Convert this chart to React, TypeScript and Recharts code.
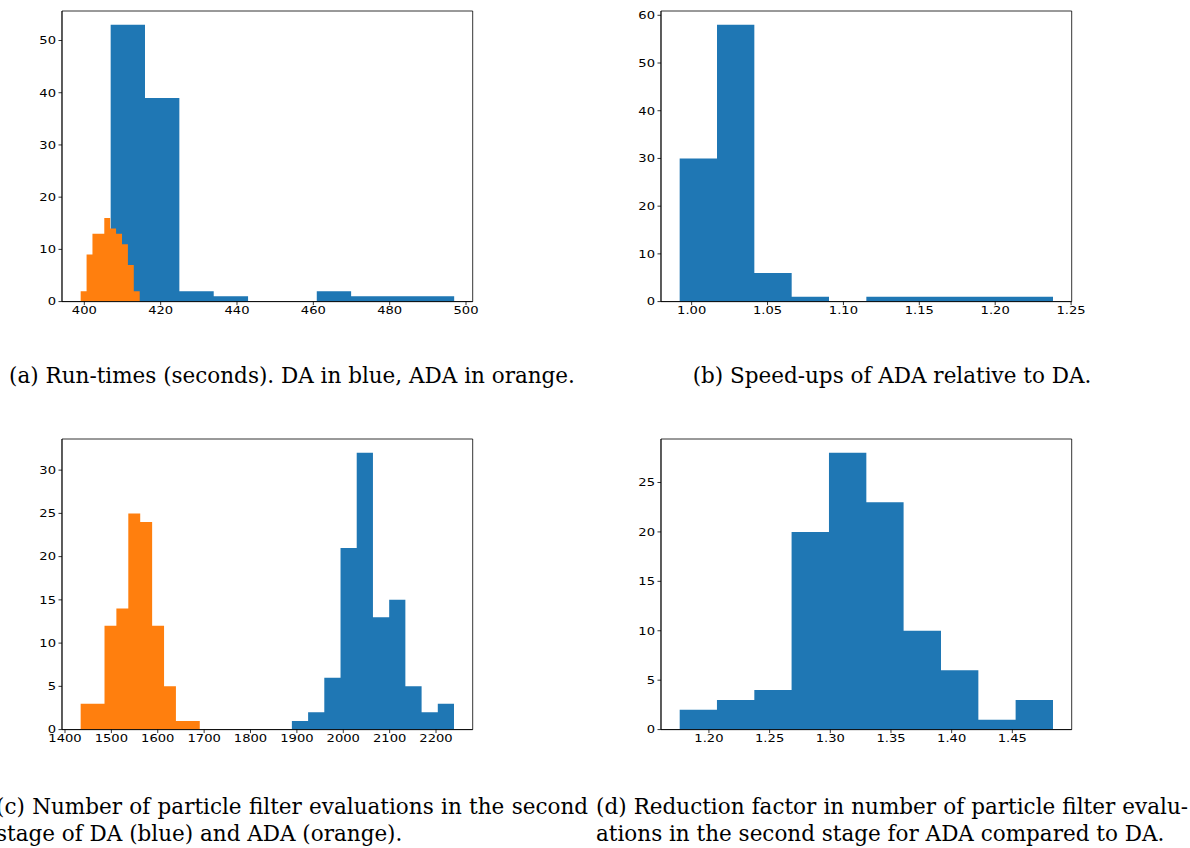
import React from "react";
import { ComposedChart, Area, XAxis, YAxis, CartesianGrid } from "recharts";

// (a) run-times, seconds
const runDaEdges = [406.9, 415.9, 424.9, 433.9, 442.9, 451.9, 460.9, 469.9, 478.9, 487.9, 496.9];
const runDaCounts = [53, 39, 2, 1, 0, 0, 2, 1, 1, 1];
const runAdaEdges = [399.04, 400.59, 402.13, 403.68, 405.23, 406.78, 408.32, 409.87, 411.42, 412.96, 414.51];
const runAdaCounts = [2, 9, 13, 13, 16, 14, 13, 11, 7, 2];
const runXTicks = [400, 420, 440, 460, 480, 500];
const runYTicks = [0, 10, 20, 30, 40, 50];

// (b) speed-ups
const speedEdges = [0.9921, 1.0167, 1.0413, 1.0659, 1.0905, 1.1151, 1.1397, 1.1643, 1.1889, 1.2135, 1.2381];
const speedCounts = [30, 58, 6, 1, 0, 1, 1, 1, 1, 1];
const speedXTicks = [1.0, 1.05, 1.1, 1.15, 1.2, 1.25];
const speedYTicks = [0, 10, 20, 30, 40, 50, 60];

// (c) particle filter evaluations
const evalDaEdges = [1889.2, 1924.2, 1959.1, 1994.1, 2029.0, 2064.0, 2099.0, 2133.9, 2168.9, 2203.8, 2238.8];
const evalDaCounts = [1, 2, 6, 21, 32, 13, 15, 5, 2, 3];
const evalAdaEdges = [1433.8, 1459.5, 1485.2, 1510.8, 1536.5, 1562.2, 1587.9, 1613.6, 1639.2, 1664.9, 1690.6];
const evalAdaCounts = [3, 3, 12, 14, 25, 24, 12, 5, 1, 1];
const evalXTicks = [1400, 1500, 1600, 1700, 1800, 1900, 2000, 2100, 2200];
const evalYTicks = [0, 5, 10, 15, 20, 25, 30];

// (d) reduction factor
const redEdges = [1.1759, 1.2066, 1.2374, 1.2681, 1.2989, 1.3297, 1.3604, 1.3912, 1.422, 1.4527, 1.4835];
const redCounts = [2, 3, 4, 20, 28, 23, 10, 6, 1, 3];
const redXTicks = [1.2, 1.25, 1.3, 1.35, 1.4, 1.45];
const redYTicks = [0, 5, 10, 15, 20, 25];

const BLUE = "#1f77b4";
const ORANGE = "#ff7f0e";

// step data: one point per bin edge, last count repeated at the right edge
const steps = (edges: number[], counts: number[]) =>
  edges.map((x, i) => ({ x, y: counts[Math.min(i, counts.length - 1)] }));

const PLOT_W = 410.7;
const PLOT_H = 290.6;
const Y_W = 50;
const X_H = 25;
const M_TOP = 2;
const M_RIGHT = 24;

type Series = { edges: number[]; counts: number[]; color: string };

interface HistProps {
  plotLeft: number;
  plotTop: number;
  xDomain: [number, number];
  yMax: number;
  xTicks: number[];
  yTicks: number[];
  series: Series[];
  fmt: (v: number) => string;
}

const tickFont = { fontFamily: "DejaVu Sans", fontSize: 10.5, fill: "#000" };

// frame lines at the plot-area edges (matplotlib spines)
const frameH = ({ offset }: any) => [offset.top, offset.top + offset.height];
const frameV = ({ offset }: any) => [offset.left, offset.left + offset.width];

const Hist: React.FC<HistProps> = ({ plotLeft, plotTop, xDomain, yMax, xTicks, yTicks, series, fmt }) => {
  const XTick = (p: any) => (
    <g transform={`translate(${p.x},${p.y})`}>
      <text transform="scale(1.25,1)" textAnchor="middle" y={8.6} {...tickFont}>
        {fmt(p.payload.value)}
      </text>
    </g>
  );
  const YTick = (p: any) => (
    <g transform={`translate(${p.x},${p.y})`}>
      <text transform="scale(1.25,1)" textAnchor="end" x={-2} y={3.8} {...tickFont}>
        {p.payload.value}
      </text>
    </g>
  );
  return (
    <div style={{ position: "absolute", left: plotLeft - Y_W, top: plotTop - M_TOP }}>
      <ComposedChart
        width={Y_W + PLOT_W + M_RIGHT}
        height={M_TOP + PLOT_H + X_H}
        margin={{ top: M_TOP, right: M_RIGHT, left: 0, bottom: 0 }}
      >
        <CartesianGrid
          stroke="#000"
          strokeWidth={0.8}
          horizontalCoordinatesGenerator={frameH}
          verticalCoordinatesGenerator={frameV}
        />
        <XAxis
          dataKey="x"
          type="number"
          domain={xDomain}
          ticks={xTicks}
          interval={0}
          allowDataOverflow
          height={X_H}
          tickSize={3.5}
          tickMargin={0}
          tick={XTick}
          stroke="#000"
          strokeWidth={0.8}
        />
        <YAxis
          type="number"
          domain={[0, yMax]}
          ticks={yTicks}
          interval={0}
          allowDataOverflow
          width={Y_W}
          tickSize={3.5}
          tickMargin={0}
          tick={YTick}
          stroke="#000"
          strokeWidth={0.8}
        />
        {series.map((s, i) => (
          <Area
            key={i}
            data={steps(s.edges, s.counts)}
            dataKey="y"
            type="stepAfter"
            baseValue={0}
            stroke="none"
            fill={s.color}
            fillOpacity={1}
            isAnimationActive={false}
            dot={false}
            activeDot={false}
          />
        ))}
      </ComposedChart>
    </div>
  );
};

const capFont: React.CSSProperties = {
  fontFamily: "'DejaVu Serif', serif",
  fontSize: 21.5,
  lineHeight: "27px",
  color: "#000",
  whiteSpace: "nowrap",
};

const f2 = (v: number) => v.toFixed(2);
const f0 = (v: number) => String(v);

export default function App() {
  return (
    <div style={{ position: "absolute", left: 0, top: 0, width: 1190, height: 848, background: "#fff", overflow: "hidden" }}>
      <Hist
        plotLeft={62}
        plotTop={10.7}
        xDomain={[394.15, 501.75]}
        yMax={55.65}
        xTicks={runXTicks}
        yTicks={runYTicks}
        series={[
          { edges: runDaEdges, counts: runDaCounts, color: BLUE },
          { edges: runAdaEdges, counts: runAdaCounts, color: ORANGE },
        ]}
        fmt={f0}
      />
      <Hist
        plotLeft={661}
        plotTop={10.7}
        xDomain={[0.9798, 1.2504]}
        yMax={60.9}
        xTicks={speedXTicks}
        yTicks={speedYTicks}
        series={[{ edges: speedEdges, counts: speedCounts, color: BLUE }]}
        fmt={f2}
      />
      <Hist
        plotLeft={62}
        plotTop={439.3}
        xDomain={[1393.55, 2279.05]}
        yMax={33.6}
        xTicks={evalXTicks}
        yTicks={evalYTicks}
        series={[
          { edges: evalDaEdges, counts: evalDaCounts, color: BLUE },
          { edges: evalAdaEdges, counts: evalAdaCounts, color: ORANGE },
        ]}
        fmt={f0}
      />
      <Hist
        plotLeft={661}
        plotTop={439.3}
        xDomain={[1.1605, 1.4989]}
        yMax={29.4}
        xTicks={redXTicks}
        yTicks={redYTicks}
        series={[{ edges: redEdges, counts: redCounts, color: BLUE }]}
        fmt={f2}
      />

      <div style={{ ...capFont, position: "absolute", left: -4, top: 362, width: 592, textAlign: "center" }}>
        (a) Run-times (seconds). DA in blue, ADA in orange.
      </div>
      <div style={{ ...capFont, position: "absolute", left: 596, top: 362, width: 592, textAlign: "center" }}>
        (b) Speed-ups of ADA relative to DA.
      </div>
      <div style={{ ...capFont, position: "absolute", left: -4, top: 793, width: 592 }}>
        <div style={{ textAlign: "justify", textAlignLast: "justify" }}>
          (c) Number of particle filter evaluations in the second
        </div>
        <div>stage of DA (blue) and ADA (orange).</div>
      </div>
      <div style={{ ...capFont, position: "absolute", left: 596, top: 793, width: 592 }}>
        <div style={{ textAlign: "justify", textAlignLast: "justify" }}>
          (d) Reduction factor in number of particle filter evalu-
        </div>
        <div>ations in the second stage for ADA compared to DA.</div>
      </div>
    </div>
  );
}
